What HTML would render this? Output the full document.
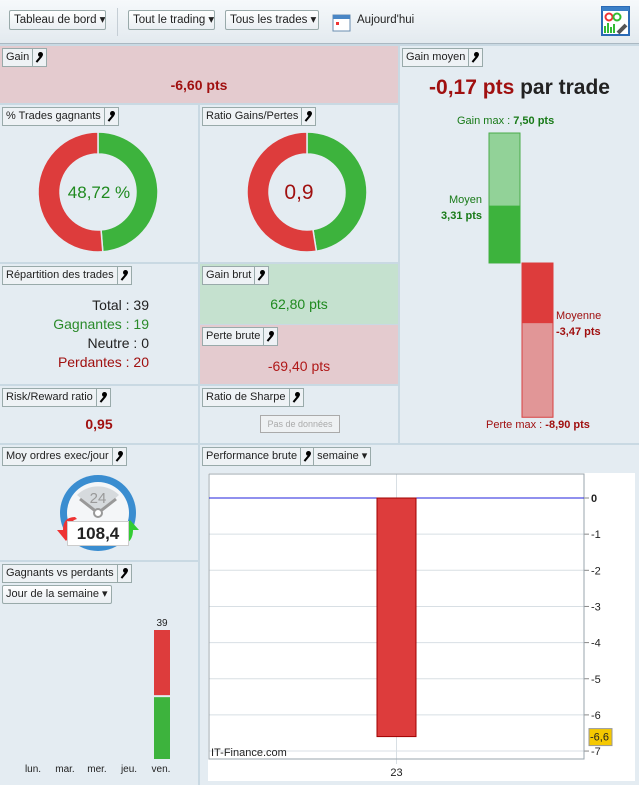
<!DOCTYPE html>
<html><head><meta charset="utf-8">
<style>
*{box-sizing:border-box;margin:0;padding:0}
body{width:639px;height:785px;position:relative;overflow:hidden;background:#c9d9e3;font-family:"Liberation Sans",sans-serif;font-size:12px;color:#222}
.p{position:absolute;background:#e4ecf2}
.hd{position:absolute;left:2px;top:2px;height:19px;border:1px solid #9aa;background:#eef2f5;display:flex;font-size:11px;line-height:17px}
.hd span{padding:0 3px;border-right:1px solid #9aa}
.hd span:last-child{border-right:none}
.w{width:13px;padding:0!important;position:relative}
.w::before{content:"";position:absolute;left:5px;top:6px;width:2px;height:8px;background:#000;transform:rotate(40deg)}
.w::after{content:"";position:absolute;left:5px;top:3px;width:5px;height:5px;border-radius:50%;background:#000}
.btn{position:absolute;top:10px;height:20px;border:1px solid #9aa;background:linear-gradient(#fff,#e9eef2);border-radius:2px;font-size:11.5px;line-height:18px;padding:0 4px;white-space:nowrap;overflow:hidden}
.c{position:absolute;text-align:center;width:100%}
</style></head><body>
<div style="position:absolute;left:0;top:0;width:639px;height:44px;background:linear-gradient(#f6f9fb,#e3eaef);border-bottom:1px solid #aab8c2">
 <div class="btn" style="left:9px;width:97px">Tableau de bord ▾</div>
 <div style="position:absolute;left:117px;top:8px;width:1px;height:28px;background:#c5ced5"></div>
 <div class="btn" style="left:128px;width:87px">Tout le trading ▾</div>
 <div class="btn" style="left:225px;width:94px">Tous les trades ▾</div>
 <svg style="position:absolute;left:332px;top:12px" width="20" height="20"><rect x="1" y="3" width="17" height="16" fill="#fff" stroke="#6a8db0"/><rect x="1" y="3" width="17" height="4" fill="#4a86c5"/><rect x="4" y="10" width="3" height="3" fill="#e33"/></svg>
 <div style="position:absolute;left:357px;top:14px;font-size:11.5px">Aujourd'hui</div>
 <svg style="position:absolute;left:601px;top:6px" width="31" height="31"><rect x="1" y="1" width="27" height="28" fill="#fff" stroke="#2a6ab5" stroke-width="2"/><rect x="1" y="1" width="27" height="4" fill="#3a7fc8"/><circle cx="8" cy="11" r="3.5" fill="none" stroke="#e33" stroke-width="2"/><circle cx="16" cy="11" r="3.5" fill="none" stroke="#3b3" stroke-width="2"/><path d="M4 27V20M7 27V17M10 27V21M13 27V18" stroke="#3b3" stroke-width="2"/><path d="M17 27l8-8" stroke="#555" stroke-width="4"/></svg>
</div>

<div class="p" style="left:0;top:46px;width:398px;height:57px;background:#e4cbcf">
 <div class="hd"><span>Gain</span><span class="w"></span></div>
 <div class="c" style="top:31px;color:#a01010;font-weight:bold;font-size:14px">-6,60 pts</div>
</div>

<div class="p" style="left:400px;top:46px;width:239px;height:397px">
 <div class="hd"><span>Gain moyen</span><span class="w"></span></div>
 <div class="c" style="top:30px;font-weight:bold;font-size:21px"><span style="color:#a01010">-0,17 pts</span> par trade</div>
 <div style="position:absolute;left:57px;top:69px;color:#187a18;font-size:11px">Gain max : <b>7,50 pts</b></div>
 <div style="position:absolute;right:157px;top:146px;color:#187a18;font-size:11px;text-align:right;line-height:16px">Moyen<br><b>3,31 pts</b></div>
 <div style="position:absolute;left:156px;top:262px;color:#a01010;font-size:11px;line-height:16px">Moyenne<br><b>-3,47 pts</b></div>
 <div style="position:absolute;left:86px;top:373px;color:#a01010;font-size:11px">Perte max : <b>-8,90 pts</b></div>
 <svg id="gm" style="position:absolute;left:0;top:0" width="239" height="397"></svg>
</div>

<div class="p" style="left:0;top:105px;width:198px;height:157px">
 <div class="hd"><span>% Trades gagnants</span><span class="w"></span></div>
 <svg id="d1" style="position:absolute;left:0;top:0" width="198" height="157"></svg>
 <div class="c" style="top:78px;color:#1f8a1f;font-size:17px">48,72 %</div>
</div>
<div class="p" style="left:200px;top:105px;width:198px;height:157px">
 <div class="hd"><span>Ratio Gains/Pertes</span><span class="w"></span></div>
 <svg id="d2" style="position:absolute;left:0;top:0" width="198" height="157"></svg>
 <div class="c" style="top:76px;color:#a01010;font-size:21px">0,9</div>
</div>

<div class="p" style="left:0;top:264px;width:198px;height:120px">
 <div class="hd"><span>Répartition des trades</span><span class="w"></span></div>
 <div style="position:absolute;right:49px;top:32px;text-align:right;font-size:14px;line-height:19px">
  <div>Total : 39</div><div style="color:#2a8a2a">Gagnantes : 19</div><div>Neutre : 0</div><div style="color:#a01010">Perdantes : 20</div></div>
</div>
<div class="p" style="left:200px;top:264px;width:198px;height:60px;background:#c5e1cf">
 <div class="hd"><span>Gain brut</span><span class="w"></span></div>
 <div class="c" style="top:32px;color:#1f8a1f;font-size:14px">62,80 pts</div>
</div>
<div class="p" style="left:200px;top:325px;width:198px;height:59px;background:#e4cbcf">
 <div class="hd"><span>Perte brute</span><span class="w"></span></div>
 <div class="c" style="top:33px;color:#b01818;font-size:14px">-69,40 pts</div>
</div>

<div class="p" style="left:0;top:386px;width:198px;height:57px">
 <div class="hd"><span>Risk/Reward ratio</span><span class="w"></span></div>
 <div class="c" style="top:30px;color:#a01010;font-weight:bold;font-size:14px">0,95</div>
</div>
<div class="p" style="left:200px;top:386px;width:198px;height:57px">
 <div class="hd"><span>Ratio de Sharpe</span><span class="w"></span></div>
 <div style="position:absolute;left:60px;top:29px;width:80px;height:18px;border:1px solid #aaa;background:#eef1f3;color:#aaa;font-size:9px;text-align:center;line-height:16px">Pas de données</div>
</div>

<div class="p" style="left:0;top:445px;width:198px;height:115px">
 <div class="hd"><span>Moy ordres exec/jour</span><span class="w"></span></div>
 <svg style="position:absolute;left:55px;top:30px" width="90" height="85"><circle cx="43" cy="38" r="38" fill="#3a8dd0"/><circle cx="43" cy="38" r="31" fill="#f4f6f8"/><path d="M22 20 A30 30 0 0 1 64 20 L43 38Z" fill="#d6dadd"/><text x="43" y="28" text-anchor="middle" font-size="15" fill="#999" font-family="Liberation Sans">24</text><path d="M25 24L43 38L61 24" stroke="#999" stroke-width="3" fill="none"/><circle cx="43" cy="38" r="4" fill="#fff" stroke="#999" stroke-width="2"/><path d="M8 55 Q8 42 20 42 L22 44 Q14 46 15 55 L20 55 L11 66 L2 55Z" fill="#e33"/><path d="M78 55 Q78 68 66 70 L66 65 Q72 64 72 55 L67 55 L75 45 L84 55Z" fill="#3c3"/></svg>
 <div style="position:absolute;left:67px;top:76px;width:62px;height:25px;background:#fff;border:1px solid #ccc;font-weight:bold;font-size:17px;text-align:center;line-height:23px">108,4</div>
</div>

<div class="p" style="left:0;top:562px;width:198px;height:223px">
 <div class="hd"><span>Gagnants vs perdants</span><span class="w"></span></div>
 <div class="btn" style="left:2px;top:23px;height:19px;line-height:17px;padding:0 3px;font-size:11px">Jour de la semaine ▾</div>
 <svg id="wl" style="position:absolute;left:0;top:0" width="198" height="223"></svg>
</div>

<div class="p" style="left:200px;top:445px;width:439px;height:340px">
 <div class="hd"><span>Performance brute</span><span class="w"></span><span>semaine ▾</span></div>
 <svg id="pf" style="position:absolute;left:0;top:0" width="439" height="340"></svg>
</div>

<script>
const NS='http://www.w3.org/2000/svg';
function mk(p,t,a){const e=document.createElementNS(NS,t);for(const k in a)e.setAttribute(k,a[k]);p.appendChild(e);return e;}

const donutWinShare=[48.72];
const donutRatioShare=[47.5];
function donut(svg,share,cx,cy){
 const R=60,r=38;
 function arc(a0,a1,col){
  const p=(a,rad)=>[cx+rad*Math.sin(a),cy-rad*Math.cos(a)];
  const l=(a1-a0)>Math.PI?1:0;
  const [x0,y0]=p(a0,R),[x1,y1]=p(a1,R),[x2,y2]=p(a1,r),[x3,y3]=p(a0,r);
  return mk(svg,'path',{d:`M${x0} ${y0}A${R} ${R} 0 ${l} 1 ${x1} ${y1}L${x2} ${y2}A${r} ${r} 0 ${l} 0 ${x3} ${y3}Z`,fill:col,stroke:'#e4ecf2','stroke-width':1.5});
 }
 const a=share/100*2*Math.PI;
 const g=arc(0,a,'#3db33d');
 
 
 const rr=arc(a,2*Math.PI-0.0001,'#dd3c3c');
 
 
}
donut(document.getElementById('d1'),donutWinShare[0],98,87);
donut(document.getElementById('d2'),donutRatioShare[0],107,87);

const gmValues=[7.50,3.31,-3.47,-8.90];
(function(){
 const s=document.getElementById('gm'),z=217,k=130/7.5,y=v=>z-v*k;
 let e;
 e=mk(s,'rect',{x:89,y:y(gmValues[0]),width:31,height:y(0)-y(gmValues[0]),fill:'#92d298',stroke:'#4aab4a'});
 
 e=mk(s,'rect',{x:89,y:y(gmValues[1]),width:31.5,height:y(0)-y(gmValues[1]),fill:'#3db33d'});
 
 e=mk(s,'rect',{x:122,y:y(0),width:31,height:y(gmValues[3])-y(0),fill:'#e19697',stroke:'#d84040'});
 
 e=mk(s,'rect',{x:122,y:y(0),width:31.5,height:y(gmValues[2])-y(0),fill:'#dd3c3c'});
 
})();

const wlDays=['lun.','mar.','mer.','jeu.','ven.'];
const wlWins=[0,0,0,0,19];
const wlLosses=[0,0,0,0,20];
(function(){
 const s=document.getElementById('wl'),base=197,k=129/39,x=i=>33+i*32;
 wlDays.forEach((d,i)=>{
  const t=mk(s,'text',{x:x(i),y:210,'text-anchor':'middle','font-size':10,'font-family':'Liberation Sans',fill:'#222'});t.textContent=d;
  
  const tot=wlWins[i]+wlLosses[i];if(!tot)return;
  const bx=x(i)-7;
  let e=mk(s,'rect',{x:bx,y:base-wlWins[i]*k+1,width:16,height:wlWins[i]*k-1,fill:'#3db33d'});
  
  e=mk(s,'rect',{x:bx,y:base-tot*k,width:16,height:wlLosses[i]*k-1,fill:'#dd3c3c'});
  
  const l=mk(s,'text',{x:x(i)+1,y:base-tot*k-4,'text-anchor':'middle','font-size':10,'font-family':'Liberation Sans',fill:'#222'});l.textContent=tot;
  
 });
})();

const perfCats=['23'];
const perfValues=[-6.6];
const perfTicks=[0,-1,-2,-3,-4,-5,-6,-7];
(function(){
 const s=document.getElementById('pf');
 const L=9,R=384,T=29,B=314,z=53,k=36.15,y=v=>z-v*k;
 mk(s,'rect',{x:8,y:28,width:427,height:308,fill:'#fff'});
 perfTicks.forEach(t=>{
  mk(s,'line',{x1:L,x2:R,y1:y(t),y2:y(t),stroke:'#d8dfe4'});
  mk(s,'line',{x1:R,x2:R+5,y1:y(t),y2:y(t),stroke:'#888'});
  const tx=mk(s,'text',{x:R+7,y:y(t)+4,'font-size':11,'font-family':'Liberation Sans',fill:'#222','font-weight':t===0?'bold':'normal'});tx.textContent=t;
  
 });
 const cx=i=>L+(R-L)*(i+0.5)/perfCats.length;
 perfCats.forEach((c,i)=>{
  mk(s,'line',{x1:cx(i),x2:cx(i),y1:T,y2:B+5,stroke:'#d8dfe4'});
  const tx=mk(s,'text',{x:cx(i),y:B+17,'text-anchor':'middle','font-size':11,'font-family':'Liberation Sans',fill:'#222'});tx.textContent=c;
  
 });
 mk(s,'rect',{x:L,y:T,width:R-L,height:B-T,fill:'none',stroke:'#9aa5ad'});
 mk(s,'line',{x1:L,x2:R,y1:y(0),y2:y(0),stroke:'#2222dd'});
 perfValues.forEach((v,i)=>{
  const e=mk(s,'rect',{x:cx(i)-19.5,y:Math.min(y(0),y(v)),width:39,height:Math.abs(y(v)-y(0)),fill:'#dd3c3c',stroke:'#a00000'});
  
 });
 const lv=perfValues[perfValues.length-1];
 const b=mk(s,'rect',{x:R+5,y:y(lv)-8,width:23,height:17,fill:'#f5c800',stroke:'#999'});
 
 const bt=mk(s,'text',{x:R+6,y:y(lv)+4,'font-size':11,'font-family':'Liberation Sans',fill:'#222'});bt.textContent=String(lv).replace('.',',');
 
 const w=mk(s,'text',{x:11,y:B-3,'font-size':11,'font-family':'Liberation Sans',fill:'#222'});w.textContent='IT-Finance.com';
 
})();
</script>
</body></html>
